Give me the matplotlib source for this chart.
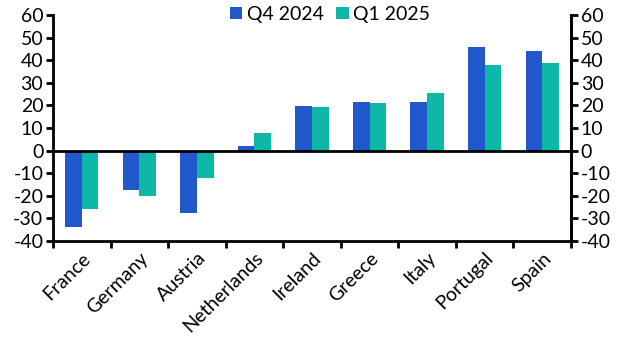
import matplotlib
matplotlib.use("Agg")
import matplotlib.pyplot as plt
import numpy as np

categories = ["France", "Germany", "Austria", "Netherlands", "Ireland", "Greece", "Italy", "Portugal", "Spain"]
q4_2024 = [-34, -17.3, -27.5, 2.2, 19.6, 21.3, 21.3, 45.8, 44]
q1_2025 = [-26, -20.3, -12.2, 7.7, 19.1, 20.9, 25.3, 37.8, 38.8]
yticks = [-40, -30, -20, -10, 0, 10, 20, 30, 40, 50, 60]

plt.rcParams['font.family'] = ['Lato', 'DejaVu Sans']
FS = 14
fig = plt.figure(figsize=(6.29, 3.56), dpi=100)
ax = fig.add_axes([53/629, 1-241/356, (571-53)/629, (241-15)/356])

x = np.arange(len(categories))
w = 0.29
ax.bar(x - w/2, q4_2024, w, color="#2159CC", label="Q4 2024")
ax.bar(x + w/2, q1_2025, w, color="#0DB8A8", label="Q1 2025")
ax.axhline(0, color="black", lw=2)

ax.set_xlim(-0.5, len(categories) - 0.5)
ax.set_ylim(-40, 60)
ax.set_yticks(yticks)
ax.set_yticklabels([str(t) for t in yticks], fontsize=FS)
ax.set_xticks(np.arange(len(categories) + 1) - 0.5, minor=False)
ax.set_xticklabels([])
ax.set_xticks(x, minor=True)
ax.set_xticklabels(categories, minor=True, rotation=45, ha="right", rotation_mode="anchor", fontsize=FS)
ax.tick_params(axis="x", which="minor", length=0, pad=6)
ax.tick_params(axis="x", which="major", length=5, width=2, direction="out")
ax.tick_params(axis="y", length=5, width=2, direction="out", pad=2)

ax.spines["top"].set_visible(False)
for s in ["left", "right", "bottom"]:
    ax.spines[s].set_linewidth(2)

ax2 = ax.twinx()
ax2.set_ylim(-40, 60)
ax2.set_yticks(yticks)
ax2.set_yticklabels([str(t) for t in yticks], fontsize=FS)
ax2.tick_params(axis="y", length=5, width=2, direction="out", pad=2)
for s in ["top", "left", "bottom"]:
    ax2.spines[s].set_visible(False)
ax2.spines["right"].set_linewidth(2)

ax.legend(loc="upper center", bbox_to_anchor=(0.535, 1.075), ncol=2, frameon=False, fontsize=FS,
          handlelength=0.65, handleheight=0.65, handletextpad=0.25, columnspacing=0.6, borderaxespad=0)

fig.savefig("out.png", dpi=100)
